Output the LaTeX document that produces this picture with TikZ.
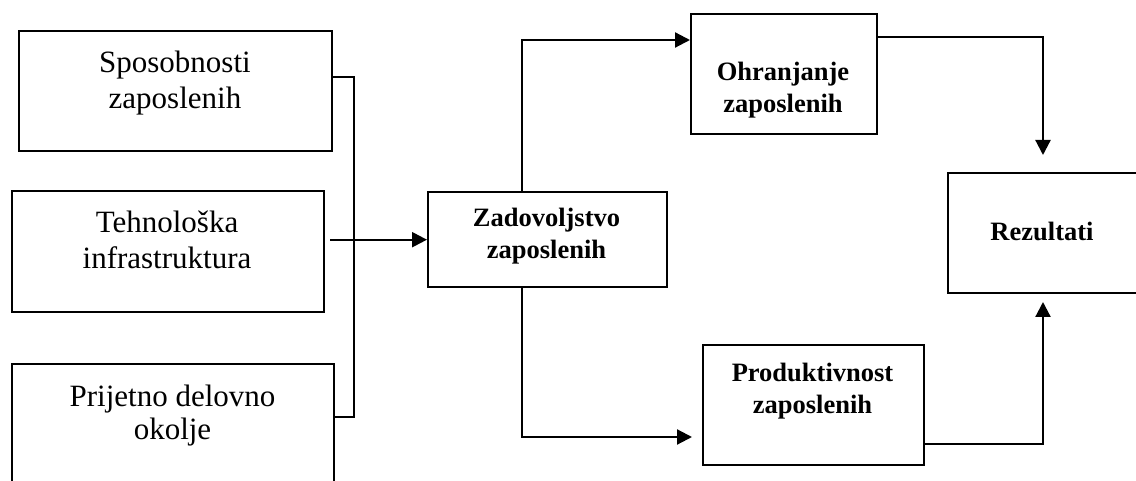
\documentclass[tikz,border=0pt]{standalone}
\usepackage{fontspec}
\setmainfont{Liberation Serif}
\usetikzlibrary{arrows.meta,calc}
\begin{document}
\begin{tikzpicture}[x=1pt,y=-1pt,
  box/.style={draw, line width=2.4pt, anchor=north west, inner sep=0pt},
  plain/.style={font=\fontsize{31}{36}\selectfont, align=center, inner sep=0pt},
  strong/.style={font=\fontsize{26.5}{32}\selectfont\bfseries, align=center, inner sep=0pt},
  link/.style={line width=2.2pt},
  arr/.style={link, -{Triangle[length=15pt,width=15pt]}}]
\clip (0,0) rectangle (1136,481);

% input factors
\node[box, minimum width=313pt, minimum height=120pt] (b1) at (18,30) {};
\node[plain] (t1) at (175,83) {Sposobnosti\\zaposlenih};
\node[box, minimum width=312pt, minimum height=121pt] (b2) at (11,190) {};
\node[plain] (t2) at (167,239.5) {Tehnološka\\infrastruktura};
\node[box, minimum width=322pt, minimum height=140pt] (b3) at (11,363) {};
\node[plain, font=\fontsize{31}{33}\selectfont] (t3) at (172.5,416) {Prijetno delovno\\okolje};

% central and outcome boxes
\node[box, minimum width=239pt, minimum height=95pt] (zad) at (427,191) {};
\node[strong] (tz) at (546.5,236.5) {Zadovoljstvo\\zaposlenih};
\node[box, minimum width=186pt, minimum height=120pt] (ohr) at (690,13) {};
\node[strong] (to) at (783,90) {Ohranjanje\\zaposlenih};
\node[box, minimum width=221pt, minimum height=120pt] (prod) at (702,344) {};
\node[strong] (tp) at (812.5,391.5) {Produktivnost\\zaposlenih};
\node[box, minimum width=191pt, minimum height=120pt] (rez) at (947,172) {};
\node[strong] (tr) at (1042,231) {Rezultati};

% bracket joining the three factors
\coordinate (bt) at (354,77);
\coordinate (bb) at (354,417);
\draw[link] (b1.east |- bt) -- (bt) -- (bb) -- (b3.east |- bb);
\coordinate (feed) at (330,241);
\draw[arr] (zad.west -| feed) -- (zad.west);

% branches from satisfaction
\coordinate (up) at (522,40);
\draw[arr] (zad.north -| up) -- (up) -- (up -| ohr.west);
\coordinate (dn) at (522,437);
\coordinate (dnend) at (692,437);
\draw[arr] (zad.south -| dn) -- (dn) -- (dnend);

% into results
\coordinate (rt) at (1043,37);
\coordinate (rtend) at (1043,155);
\draw[arr] (rt -| ohr.east) -- (rt) -- (rtend);
\coordinate (rb) at (1043,444);
\coordinate (rbend) at (1043,302);
\draw[arr] (rb -| prod.east) -- (rb) -- (rbend);
\end{tikzpicture}
\end{document}
